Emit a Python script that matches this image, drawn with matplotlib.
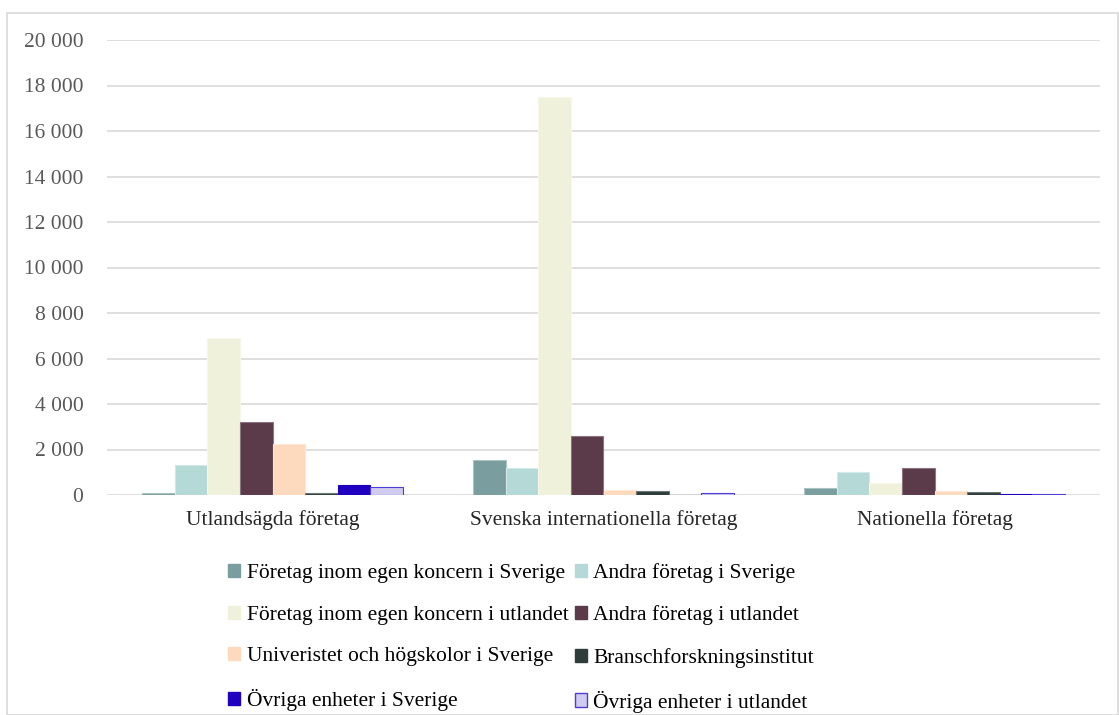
import matplotlib
matplotlib.use("Agg")
import matplotlib.pyplot as plt
from matplotlib.patches import Rectangle, Patch
import numpy as np

categories = ["Utlandsägda företag", "Svenska internationella företag", "Nationella företag"]
series_names = [
    "Företag inom egen koncern i Sverige",
    "Andra företag i Sverige",
    "Företag inom egen koncern i utlandet",
    "Andra företag i utlandet",
    "Univeristet och högskolor i Sverige",
    "Branschforskningsinstitut",
    "Övriga enheter i Sverige",
    "Övriga enheter i utlandet",
]
egen_sverige = [80, 1540, 320]
andra_sverige = [1320, 1190, 1020]
egen_utland = [6900, 17500, 540]
andra_utland = [3200, 2590, 1190]
universitet = [2240, 220, 190]
bransch = [80, 190, 130]
ovriga_sverige = [430, 20, 30]
ovriga_utland = [350, 80, 30]
series_values = [egen_sverige, andra_sverige, egen_utland, andra_utland,
                 universitet, bransch, ovriga_sverige, ovriga_utland]
yticks = [0, 2000, 4000, 6000, 8000, 10000, 12000, 14000, 16000, 18000, 20000]
ytick_labels = ["0", "2 000", "4 000", "6 000", "8 000", "10 000", "12 000",
                "14 000", "16 000", "18 000", "20 000"]

colors = ["#7A9E9F", "#B4D9D6", "#EFF1DA", "#5B3A4A", "#FDD9BD", "#2F3D3A", "#1F00C0", "#D0CCF0"]
edges = ["#A9C2C2", "#D2E9E7", "#F6F7EA", "#8C7380", "#FEE7D6", "#6D7775", "#1F00C0", "#4E3CD6"]

plt.rcParams['font.family'] = ['Liberation Serif', 'DejaVu Serif']
W, H = 1119, 715
fig = plt.figure(figsize=(W / 100, H / 100), dpi=100)

# outer border
fig.patches.append(Rectangle((7 / W, 0), (W - 8) / W, (H - 13) / H, transform=fig.transFigure,
                             fill=False, edgecolor="#D9D9D9", linewidth=1.2))

ax = fig.add_axes([107 / W, 1 - 495 / H, (1100 - 107) / W, (495 - 40) / H])
n = len(series_values)
gap = 2.15
bw = 1.0 / (n + gap)
x = np.arange(len(categories))
handles = []
for i, vals in enumerate(series_values):
    offs = (i - (n - 1) / 2) * bw
    ax.bar(x + offs, vals, width=bw, color=colors[i], edgecolor=edges[i], linewidth=0.8,
           zorder=3)
    handles.append(Patch(facecolor=colors[i], edgecolor=edges[i] if i == 7 else colors[i],
                         linewidth=1))

ax.set_xlim(-0.5, len(categories) - 0.5)
ax.set_ylim(0, 20000)
ax.set_yticks(yticks)
ax.set_yticklabels(ytick_labels)
ax.set_xticks(x)
ax.set_xticklabels(categories)
ax.tick_params(axis='both', length=0, labelsize=15.5)
ax.tick_params(axis='y', pad=17, labelcolor="#595959")
ax.tick_params(axis='x', pad=11, labelcolor="#262626")
for s in ax.spines.values():
    s.set_visible(False)
ax.grid(axis='y', color="#D9D9D9", linewidth=1.2, zorder=0)

# legend filled row by row (2 columns)
order = [0, 2, 4, 6, 1, 3, 5, 7]
leg = fig.legend([handles[i] for i in order], [series_names[i] for i in order],
                 ncol=2, loc='upper left',
                 bbox_to_anchor=(228 / W, 1 - 563 / H), frameon=False,
                 fontsize=15.5, handlelength=0.56, handleheight=0.56, handletextpad=0.3,
                 columnspacing=0.3, labelspacing=1.05, borderpad=0, borderaxespad=0)
for t in leg.get_texts():
    t.set_color("#000000")

fig.savefig("out.png", dpi=100)
